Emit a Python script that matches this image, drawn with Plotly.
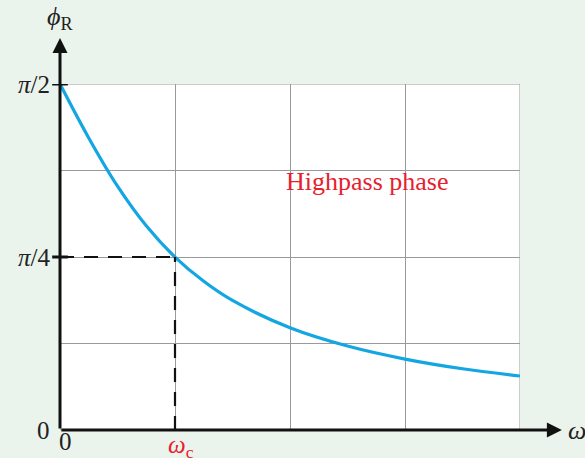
import math
import plotly.graph_objects as go

# Data (omega in units of omega_c, phase in radians)
omega = [0, 0.25, 0.5, 0.75, 1.0, 1.25, 1.5, 2.0, 2.5, 3.0, 3.5, 4.0]
phase = [1.571, 1.326, 1.107, 0.927, 0.785, 0.675, 0.588, 0.464, 0.381, 0.322, 0.278, 0.245]

x_grid = [0, 1, 2, 3, 4]
y_grid = [0, math.pi / 8, math.pi / 4, 3 * math.pi / 8, math.pi / 2]
y_tick_vals = [0, math.pi / 4, math.pi / 2]
y_tick_text = ["0", "<i>π</i>/4", "<i>π</i>/2"]
x_tick_vals = [0, 1]
x_tick_text = ["0", "<i>ω</i><sub>c</sub>"]
x_tick_colors = ["#222222", "#e8202e"]

SERIF = "Liberation Serif, Times New Roman, serif"
BG = "#eaf4ec"
RED = "#e8202e"

fig = go.Figure()
fig.add_trace(go.Scatter(
    x=omega, y=phase, mode="lines",
    line=dict(color="#14a6e2", width=3.2, shape="spline", smoothing=1.0),
    cliponaxis=False, hoverinfo="skip", showlegend=False,
))

shapes = []
shapes.append(dict(type="rect", xref="x", yref="y", x0=0, x1=4, y0=0, y1=math.pi / 2,
                   line=dict(color="#9a9a9a", width=1), layer="below"))
shapes.append(dict(type="line", xref="x", yref="y", x0=0, x1=1, y0=math.pi / 4, y1=math.pi / 4,
                   line=dict(color="#111111", width=2.2, dash="14px,10px")))
shapes.append(dict(type="line", xref="x", yref="y", x0=1, x1=1, y0=0, y1=math.pi / 4,
                   line=dict(color="#111111", width=2.2, dash="14px,10px")))
for v in [math.pi / 4, math.pi / 2]:
    shapes.append(dict(type="line", xref="paper", yref="y", x0=-0.017, x1=0.017, y0=v, y1=v,
                       line=dict(color="#111111", width=3)))

annotations = []
annotations.append(dict(xref="x", yref="paper", x=0, y=1.133, ax=0, ay=392, axref="pixel", ayref="pixel",
                        showarrow=True, arrowhead=2, arrowsize=1, arrowwidth=3, arrowcolor="#111111", text=""))
annotations.append(dict(xref="paper", yref="y", x=1.091, y=0, ax=-502, ay=0, axref="pixel", ayref="pixel",
                        showarrow=True, arrowhead=2, arrowsize=1, arrowwidth=3, arrowcolor="#111111", text=""))
for v, t in zip(y_tick_vals, y_tick_text):
    annotations.append(dict(xref="paper", yref="y", x=-0.017, y=v, text=t, showarrow=False,
                            xanchor="right", yanchor="middle", font=dict(family=SERIF, size=25, color="#222222")))
for v, t, c in zip(x_tick_vals, x_tick_text, x_tick_colors):
    annotations.append(dict(xref="x", yref="paper", x=v + (0.05 if v == 0 else 0.05), y=0.0, text=t, showarrow=False,
                            xanchor="center", yanchor="top", yshift=(4 if v == 0 else 1),
                            font=dict(family=SERIF, size=25, color=c)))
annotations.append(dict(xref="paper", yref="paper", x=0.0, y=1.14, text="<i>ϕ</i><sub>R</sub>", showarrow=False,
                        xanchor="center", yanchor="bottom", font=dict(family=SERIF, size=26, color="#222222")))
annotations.append(dict(xref="paper", yref="y", x=1.1, y=0, text="<i>ω</i>", showarrow=False,
                        xanchor="left", yanchor="middle", font=dict(family=SERIF, size=26, color="#222222")))
annotations.append(dict(xref="x", yref="y", x=2.67, y=1.13, text="Highpass phase", showarrow=False,
                        xanchor="center", yanchor="middle", font=dict(family=SERIF, size=26, color=RED)))

fig.update_layout(
    width=585, height=458,
    margin=dict(l=60, r=65, t=84, b=28),
    paper_bgcolor=BG, plot_bgcolor="#ffffff",
    xaxis=dict(range=[0, 4], tickvals=x_grid, showticklabels=False, showgrid=True,
               gridcolor="#9a9a9a", gridwidth=1, zeroline=False, showline=False, ticks="", fixedrange=True),
    yaxis=dict(range=[0, math.pi / 2], tickvals=y_grid, showticklabels=False, showgrid=True,
               gridcolor="#9a9a9a", gridwidth=1, zeroline=False, showline=False, ticks="", fixedrange=True),
    shapes=shapes, annotations=annotations,
)

fig.write_html("out.html", config={"displayModeBar": False},
               post_script="document.body.style.margin='0';document.body.style.background='" + BG + "';")
